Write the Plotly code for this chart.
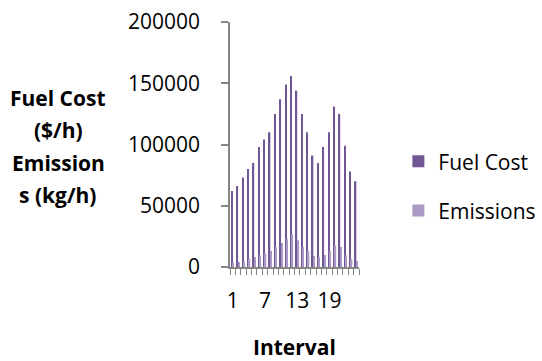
import plotly.graph_objects as go

intervals = list(range(1, 25))
fuel_cost = [62000, 66000, 73000, 80000, 85000, 98000, 104000, 110000, 125000, 137000, 149000, 156000,
             144000, 125000, 110000, 91000, 85000, 98000, 110000, 131000, 125000, 99000, 78000, 70000]
emissions = [3500, 4000, 5000, 6800, 8200, 9500, 11000, 13000, 16300, 19600, 23000, 26400,
             21800, 16300, 13000, 9000, 8200, 9800, 13000, 17700, 16300, 9800, 6500, 4900]
y_ticks = [0, 50000, 100000, 150000, 200000]
x_tick_labels = [1, 7, 13, 19]

FONT = "Open Sans"
AX = "#868686"

fig = go.Figure()
fig.add_trace(go.Bar(x=intervals, y=fuel_cost, name="Fuel Cost", marker=dict(color="#715796", line_width=0),
                     legendgroup="a"))
fig.add_trace(go.Bar(x=intervals, y=emissions, name="Emissions", marker=dict(color="#a89ac4", line_width=0),
                     legendgroup="b"))

fig.update_layout(
    width=542, height=361,
    margin=dict(l=230, r=183, t=22, b=94, autoexpand=False),
    paper_bgcolor="white", plot_bgcolor="white",
    barmode="group", bargap=0.5, bargroupgap=0,
    font=dict(family=FONT, size=21, color="black"),
    showlegend=True,
    legend=dict(xref="container", yref="container", x=0.735, xanchor="left", y=0.609, yanchor="top",
                traceorder="grouped", tracegroupgap=19, font=dict(size=21, family=FONT),
                bgcolor="rgba(0,0,0,0)"),
    xaxis=dict(range=[0.5, 24.5], tickvals=x_tick_labels, ticktext=[str(v) for v in x_tick_labels],
               ticks="", showgrid=False, zeroline=False, showline=True, linecolor=AX, linewidth=1.5,
               tickfont=dict(size=21), ticklabelstandoff=14, automargin=False,
               minor=dict(tickvals=[i + 0.5 for i in range(0, 25)], ticks="outside", ticklen=6,
                          tickcolor=AX, tickwidth=1, showgrid=False)),
    yaxis=dict(range=[0, 200000], tickvals=y_ticks, ticktext=[str(v) for v in y_ticks],
               ticks="outside", ticklen=7, tickcolor=AX, tickwidth=1.5, automargin=False,
               showgrid=False, zeroline=False, showline=True, linecolor=AX, linewidth=1.5,
               tickfont=dict(size=21), ticklabelstandoff=17),
)

title_lines = ["Fuel Cost", "($/h)", "Emission", "s (kg/h)"]
for i, t in enumerate(title_lines):
    fig.add_annotation(text="<b>" + t + "</b>", xref="paper", yref="paper", x=(58 - 230) / 129,
                       y=1 - (98 + 32.3 * i - 22) / 245, xanchor="center", yanchor="middle",
                       showarrow=False, font=dict(size=21, family=FONT))
fig.add_annotation(text="<b>Interval</b>", xref="paper", yref="paper", x=0.5, y=1 - (347 - 22) / 245,
                   xanchor="center", yanchor="middle", showarrow=False, font=dict(size=21, family=FONT))

fig.write_html("out.html")
